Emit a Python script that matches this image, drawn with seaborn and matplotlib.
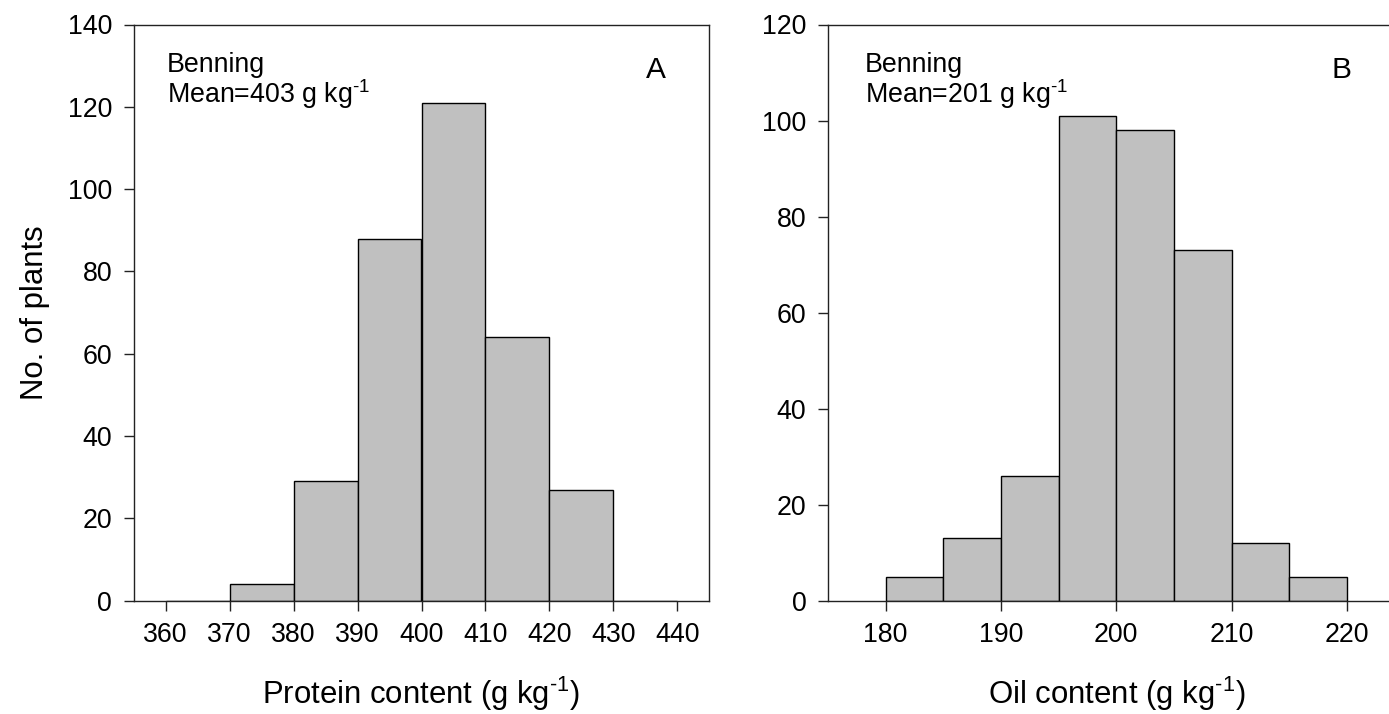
import numpy as np
import pandas as pd
import matplotlib
matplotlib.use("Agg")
import matplotlib.pyplot as plt
import seaborn as sns

# ---- data ----
protein_edges = [360, 370, 380, 390, 400, 410, 420, 430, 440]
protein_counts = [0, 4, 29, 88, 121, 64, 27, 0]
oil_edges = [180, 185, 190, 195, 200, 205, 210, 215, 220]
oil_counts = [5, 13, 26, 101, 98, 73, 12, 5]
protein_ticks = [360, 370, 380, 390, 400, 410, 420, 430, 440]
oil_ticks = [180, 190, 200, 210, 220]
protein_yticks = [0, 20, 40, 60, 80, 100, 120, 140]
oil_yticks = [0, 20, 40, 60, 80, 100, 120]

sns.set_style("ticks")
plt.rcParams["font.family"] = ["Liberation Sans", "DejaVu Sans"]
plt.rcParams["mathtext.fontset"] = "custom"
plt.rcParams["mathtext.rm"] = "Liberation Sans"
plt.rcParams["mathtext.it"] = "Liberation Sans"
plt.rcParams["mathtext.default"] = "regular"
plt.rcParams["text.color"] = "black"
plt.rcParams["axes.labelcolor"] = "black"
plt.rcParams["xtick.color"] = "black"
plt.rcParams["ytick.color"] = "black"

fig = plt.figure(figsize=(13.89, 7.14), dpi=100)
W, H = 1389, 714
def pos(l, r, t, b):
    return [l / W, 1 - b / H, (r - l) / W, (b - t) / H]

axA = fig.add_axes(pos(133.7, 709.3, 24.5, 600.7))
axB = fig.add_axes(pos(828, 1404.6, 24.5, 600.7))

SUP = r"$^{\text{-}1}$"

def draw(ax, edges, counts, xlim, ylim, xticks, yticks, xlabel, letter, mean_txt, tx, lx):
    centers = [(a + b) / 2 for a, b in zip(edges[:-1], edges[1:])]
    df = pd.DataFrame({"x": centers, "w": counts})
    sns.histplot(data=df, x="x", weights="w", bins=list(edges), ax=ax,
                 color="#C0C0C0", edgecolor="black", linewidth=1.0, alpha=1.0)
    ax.set_xlim(*xlim)
    ax.set_ylim(*ylim)
    ax.set_xticks(xticks)
    ax.set_yticks(yticks)
    ax.tick_params(axis="both", direction="out", length=7.5, width=1.0,
                   labelsize=19.3, pad=8, color="#222222")
    for s in ax.spines.values():
        s.set_visible(True)
        s.set_linewidth(1.0)
        s.set_color("#222222")
    ax.set_xlabel(xlabel, fontsize=22.4, labelpad=19)
    ax.set_ylabel("")
    ax.text(tx, 0.953, "Benning\n" + mean_txt, transform=ax.transAxes,
            ha="left", va="top", fontsize=19.3, linespacing=1.0)
    ax.text(lx, 0.921, letter, transform=ax.transAxes, ha="center", va="center",
            fontsize=21.5)

draw(axA, protein_edges, protein_counts, (355, 445), (0, 140), protein_ticks,
     protein_yticks, "Protein content (g kg" + SUP + ")", "A",
     "Mean=403 g kg" + SUP, 0.058, 0.907)
draw(axB, oil_edges, oil_counts, (175, 225), (0, 120), oil_ticks,
     oil_yticks, "Oil content (g kg" + SUP + ")", "B",
     "Mean=201 g kg" + SUP, 0.064, 0.890)

axA.set_ylabel("No. of plants", fontsize=22.4, labelpad=13)

fig.savefig("out.png", dpi=100)
